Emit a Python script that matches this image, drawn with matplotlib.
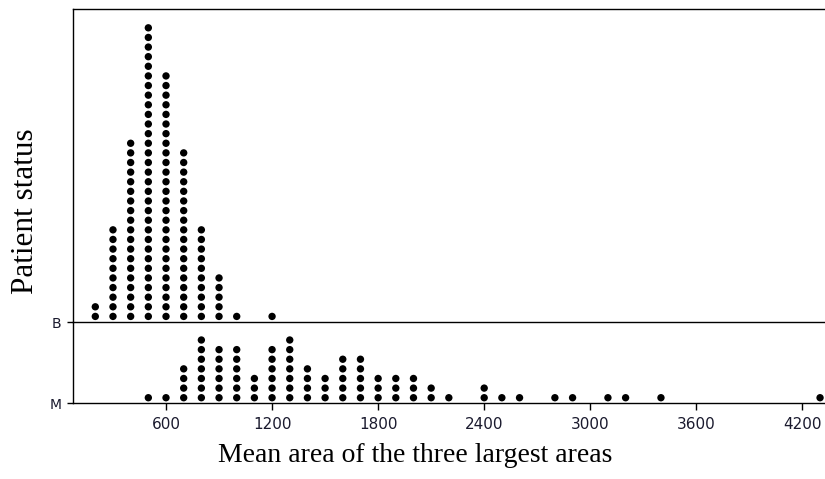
import numpy as np
import matplotlib
matplotlib.use("Agg")
import matplotlib.pyplot as plt

# ---- data ----
b_values = [200, 300, 400, 500, 600, 700, 800, 900, 1000, 1200]
b_counts = [2, 10, 19, 31, 26, 18, 10, 5, 1, 1]

m_values = [500, 600, 700, 800, 900, 1000, 1100, 1200, 1300, 1400, 1500,
            1600, 1700, 1800, 1900, 2000, 2100, 2200, 2400, 2500, 2600,
            2800, 2900, 3100, 3200, 3400, 4300]
m_counts = [1, 1, 4, 7, 6, 6, 3, 6, 7, 4, 3,
            5, 5, 3, 3, 3, 2, 1, 2, 1, 1,
            1, 1, 1, 1, 1, 1]

x_ticks = [600, 1200, 1800, 2400, 3000, 3600, 4200]
group_labels = ["B", "M"]
x_label = "Mean area of the three largest areas"
y_label = "Patient status"

# ---- layout ----
W, H = 825, 479
fig = plt.figure(figsize=(W / 100, H / 100), dpi=100)

left_px, top_px, mid_px, bot_px = 72.5, 8.5, 322.0, 403.3
spacing_px = 9.62   # vertical distance between stacked dots
offset = 0.58       # first dot above baseline (in dot units)

L = left_px / W
ax_m = fig.add_axes([L, 1 - bot_px / H, 1 - L, (bot_px - mid_px) / H])
ax_b = fig.add_axes([L, 1 - mid_px / H, 1 - L, (mid_px - top_px) / H], sharex=ax_m)
ax_m.patch.set_visible(False)
ax_b.patch.set_visible(False)

ax_b.set_ylim(0, (mid_px - top_px) / spacing_px)
ax_m.set_ylim(0, (bot_px - mid_px) / spacing_px)
ax_m.set_xlim(71, 4328)

def stack(values, counts):
    xs = np.repeat(values, counts)
    ys = np.concatenate([np.arange(c) for c in counts]) + offset
    return xs, ys

dot_s = 5.3 ** 2
for ax, vals, cnts in ((ax_b, b_values, b_counts), (ax_m, m_values, m_counts)):
    xs, ys = stack(vals, cnts)
    ax.scatter(xs, ys, s=dot_s, color="black", edgecolors="none", clip_on=False, zorder=3)
    ax.spines["right"].set_visible(False)
    for sp in ax.spines.values():
        sp.set_linewidth(1.0)
        sp.set_color("black")

tick_color = "#1a1a2e"
ax_m.spines["top"].set_visible(False)
ax_b.tick_params(axis="x", bottom=False, labelbottom=False)

ax_b.set_yticks([0])
ax_b.set_yticklabels([group_labels[0]])
ax_m.set_yticks([0])
ax_m.set_yticklabels([group_labels[1]])
for ax in (ax_b, ax_m):
    ax.tick_params(axis="y", direction="out", length=4, width=1.0,
                   labelsize=10, labelcolor=tick_color, pad=4)

ax_m.set_xticks(x_ticks)
ax_m.set_xticklabels([str(t) for t in x_ticks])
ax_m.tick_params(axis="x", direction="out", length=5, width=1.0,
                 labelsize=11, labelcolor=tick_color, pad=5)

fig.text(415 / W, 1 - 456 / H, x_label, ha="center", va="center",
         fontsize=20, family="Liberation Serif")
fig.text(26 / W, 1 - 211 / H, y_label, ha="center", va="center", rotation=90,
         fontsize=22.5, family="Liberation Serif")

fig.savefig("out.png", dpi=100)
